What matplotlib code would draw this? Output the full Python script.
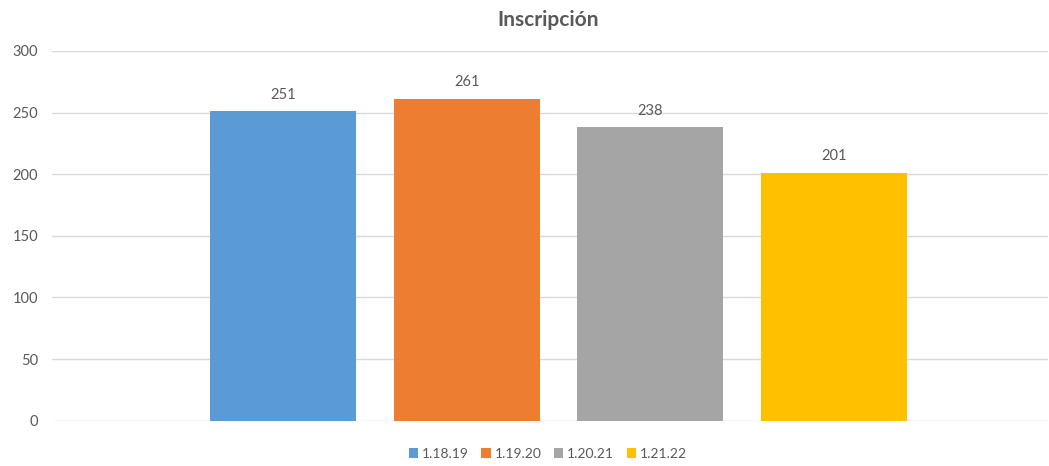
import matplotlib
matplotlib.use("Agg")
import matplotlib.pyplot as plt
from matplotlib.patches import Patch

categories = ["1.18.19", "1.19.20", "1.20.21", "1.21.22"]
values = [251, 261, 238, 201]
colors = ["#5B9BD5", "#ED7D31", "#A5A5A5", "#FFC000"]
yticks = [0, 50, 100, 150, 200, 250, 300]
title = "Inscripción"

plt.rcParams['font.family'] = ['Lato', 'DejaVu Sans']
txt = "#595959"

fig = plt.figure(figsize=(10.49, 4.66), dpi=100)
ax = fig.add_axes([52/1049, 1 - 420.7/466, (1048-52)/1049, (420.7-51)/466])

x = list(range(len(categories)))
bars = ax.bar(x, values, width=146/183.7, color=colors, zorder=3)
for xi, v in zip(x, values):
    ax.annotate(str(v), (xi, v), xytext=(0, 7), textcoords="offset points",
                ha="center", va="bottom", fontsize=10.5, color=txt)

ax.set_xlim(-1.2575, 4.164)
ax.set_ylim(0, 300)
ax.set_yticks(yticks)
ax.set_xticks([])
ax.tick_params(axis='y', length=0, pad=10, labelsize=10.5, labelcolor=txt)
ax.grid(axis='y', color="#D9D9D9", linewidth=1, zorder=0)
for s in ax.spines.values():
    s.set_visible(False)

fig.text(548/1049, 1 - 20/466, title, ha="center", va="center",
         fontsize=15, fontweight="bold", color=txt)

handles = [Patch(facecolor=c, edgecolor='none', label=l) for c, l in zip(colors, categories)]
fig.legend(handles=handles, loc="center", bbox_to_anchor=(548/1049, 1 - 454/466),
           ncol=4, frameon=False, fontsize=10, labelcolor=txt,
           handlelength=0.65, handleheight=0.65, handletextpad=0.3, columnspacing=0.9)

fig.savefig("out.png", dpi=100)
